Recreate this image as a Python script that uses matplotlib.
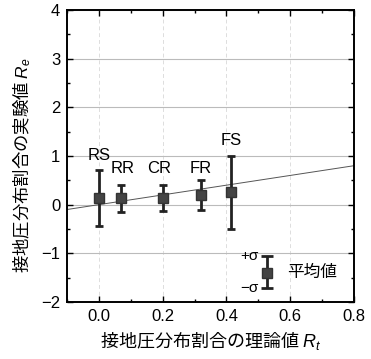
import numpy as np
import matplotlib
matplotlib.use('Agg')
import matplotlib.pyplot as plt
from matplotlib.ticker import MultipleLocator

plt.rcParams['font.family'] = ['Liberation Sans', 'Noto Sans CJK JP', 'DejaVu Sans']
plt.rcParams['mathtext.fontset'] = 'custom'
plt.rcParams['mathtext.it'] = 'Liberation Sans:italic'
plt.rcParams['mathtext.rm'] = 'Liberation Sans'

# 理論値と実験値（平均値と±σ）
labels = ['RS', 'RR', 'CR', 'FR', 'FS']
rt = [0.0, 0.07, 0.2, 0.32, 0.415]
re_mean = [0.14, 0.14, 0.13, 0.19, 0.26]
re_top = [0.71, 0.41, 0.41, 0.50, 1.00]
re_bottom = [-0.44, -0.16, -0.14, -0.12, -0.50]
label_y = [0.91, 0.65, 0.65, 0.65, 1.22]
label_x = [0.0, 0.075, 0.19, 0.32, 0.415]

# 凡例用のサンプル
leg_x = 0.527
leg_mean = -1.40
leg_top = -1.06
leg_bottom = -1.72

jp = ['Noto Sans CJK JP', 'DejaVu Sans']

fig = plt.figure(figsize=(3.71, 3.59), dpi=100)
ax = fig.add_axes([0.181, 0.159, 0.773, 0.813])

ax.set_xlim(-0.1, 0.8)
ax.set_ylim(-2, 4)
ax.xaxis.set_major_locator(MultipleLocator(0.2))
ax.xaxis.set_minor_locator(MultipleLocator(0.1))
ax.yaxis.set_major_locator(MultipleLocator(1))
ax.yaxis.set_minor_locator(MultipleLocator(0.5))
ax.xaxis.set_major_formatter(plt.FuncFormatter(lambda v, p: f'{v:.1f}'))
ax.tick_params(which='both', direction='in', top=True, right=True, labelsize=12)
ax.tick_params(which='major', length=4, width=1.0, pad=5)
ax.tick_params(which='minor', length=2.5, width=1.0)
for s in ax.spines.values():
    s.set_linewidth(1.4)

ax.grid(True, axis='y', which='major', color='#bbbbbb', linewidth=0.8)
ax.grid(True, axis='x', which='major', color='#dddddd', linewidth=0.7, linestyle=(0, (4, 3)))
ax.set_axisbelow(True)

# y = x の線
xs = np.array([-0.1, 0.8])
ax.plot(xs, xs, color='#555555', linewidth=0.7, zorder=2)

yerr = [np.array(re_mean) - np.array(re_bottom), np.array(re_top) - np.array(re_mean)]
ax.errorbar(rt, re_mean, yerr=yerr, fmt='s', color='black', ecolor='#222222',
            elinewidth=2.0, capsize=3, capthick=2.0,
            markersize=6.5, markerfacecolor='#444444', markeredgecolor='#333333', zorder=3)

for lx, ly, t in zip(label_x, label_y, labels):
    ax.text(lx, ly, t, ha='center', va='baseline', fontsize=12)

# 凡例
ax.errorbar([leg_x], [leg_mean], yerr=[[leg_mean - leg_bottom], [leg_top - leg_mean]],
            fmt='s', color='black', ecolor='#222222', elinewidth=2.0, capsize=4, capthick=2.0,
            markersize=6.5, markerfacecolor='#444444', markeredgecolor='#333333', zorder=3)
ax.text(leg_x - 0.025, leg_top, '+σ', ha='right', va='center', fontsize=11)
ax.text(leg_x - 0.025, leg_bottom, '−σ', ha='right', va='center', fontsize=11)
ax.text(0.668, leg_mean, '平均値', ha='center', va='center', fontsize=12, family=jp)

ax.set_xlabel('接地圧分布割合の理論値 $R_t$', fontsize=13, family=jp, labelpad=4)
ax.set_ylabel('接地圧分布割合の実験値 $R_e$', fontsize=12.5, family=jp)
ax.yaxis.set_label_coords(-0.118, 0.47)

fig.savefig('out.png', dpi=100)
